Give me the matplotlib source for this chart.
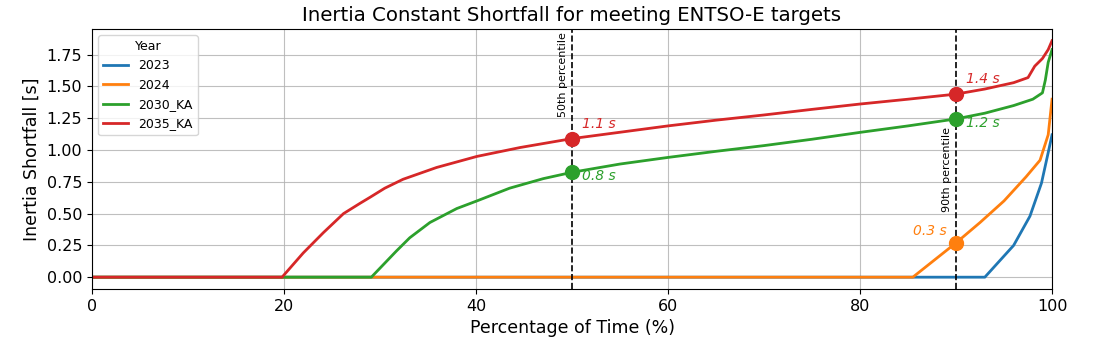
import matplotlib.pyplot as plt
import numpy as np

# duration curves: percentage of time vs inertia shortfall
x_2023 = [0, 93.0, 96.0, 97.7, 98.9, 99.6, 100]
y_2023 = [0, 0, 0.25, 0.48, 0.74, 0.98, 1.12]

x_2024 = [0, 85.5, 90.0, 92.5, 95.0, 97.3, 98.75, 99.6, 100]
y_2024 = [0, 0, 0.27, 0.43, 0.60, 0.79, 0.92, 1.12, 1.40]

x_2030 = [0, 29.1, 31.7, 33.1, 35.2, 38.0, 40.1, 43.5, 47.0, 50, 55, 60, 65,
          70, 75, 80, 85, 90, 93, 96, 98, 99, 99.3, 99.6, 100]
y_2030 = [0, 0, 0.205, 0.31, 0.43, 0.54, 0.60, 0.70, 0.775, 0.825, 0.89,
          0.942, 0.99, 1.035, 1.085, 1.139, 1.19, 1.245, 1.29, 1.35, 1.40, 1.45,
          1.55, 1.69, 1.79]

x_2035 = [0, 19.8, 22.0, 24.1, 26.2, 27.9, 29.0, 30.5, 32.4, 35.9, 40.1, 44.6,
          50, 55, 60, 65, 70, 75, 80, 85, 90, 93, 96, 97.5, 98.2, 99, 99.6, 100]
y_2035 = [0, 0, 0.19, 0.35, 0.50, 0.58, 0.63, 0.70, 0.77, 0.863, 0.95, 1.02,
          1.09, 1.14, 1.19, 1.235, 1.276, 1.32, 1.362, 1.40, 1.44, 1.48, 1.53,
          1.57, 1.66, 1.72, 1.79, 1.86]

years = ['2023', '2024', '2030_KA', '2035_KA']
colors = ['tab:blue', 'tab:orange', 'tab:green', 'tab:red']
series = [(x_2023, y_2023), (x_2024, y_2024), (x_2030, y_2030), (x_2035, y_2035)]
percentiles = [50, 90]

fig, ax = plt.subplots(figsize=(11, 3.4), dpi=100)
fig.subplots_adjust(left=0.0836, right=0.9564, top=0.915, bottom=0.15)

for (xs, ys), name, c in zip(series, years, colors):
    ax.plot(xs, ys, color=c, lw=2, label=name)

# markers and values at the percentiles (only where shortfall > 0)
for p in percentiles:
    ax.axvline(p, color='black', ls='--', lw=1.2)
    for (xs, ys), name, c in zip(series, years, colors):
        v = np.interp(p, xs, ys)
        if v <= 0:
            continue
        ax.plot(p, v, 'o', color=c, ms=10)
        if name == '2035_KA':
            ax.text(p + 1, v + 0.06, f'{v:.1f} s', color=c, style='italic',
                    fontsize=10, ha='left', va='bottom')
        elif name == '2030_KA':
            ax.text(p + 1, v - 0.03, f'{v:.1f} s', color=c, style='italic',
                    fontsize=10, ha='left', va='center')
        else:
            ax.text(p - 1, v + 0.04, f'{v:.1f} s', color=c, style='italic',
                    fontsize=10, ha='right', va='bottom')

ax.text(49.6, 1.26, '50th percentile', rotation=90, fontsize=8,
        ha='right', va='bottom')
ax.text(89.6, 0.51, '90th percentile', rotation=90, fontsize=8,
        ha='right', va='bottom')

ax.set_xlim(0, 100)
ax.set_yticks(np.arange(0, 1.76, 0.25))
ax.tick_params(labelsize=11.5)
ax.grid(True, alpha=0.8)
ax.set_xlabel('Percentage of Time (%)', fontsize=12.5)
ax.set_ylabel('Inertia Shortfall [s]', fontsize=12.5)
ax.set_title('Inertia Constant Shortfall for meeting ENTSO-E targets', fontsize=14.2)
ax.legend(title='Year', loc='upper left', fontsize=9, title_fontsize=9)

fig.savefig('out.png')
